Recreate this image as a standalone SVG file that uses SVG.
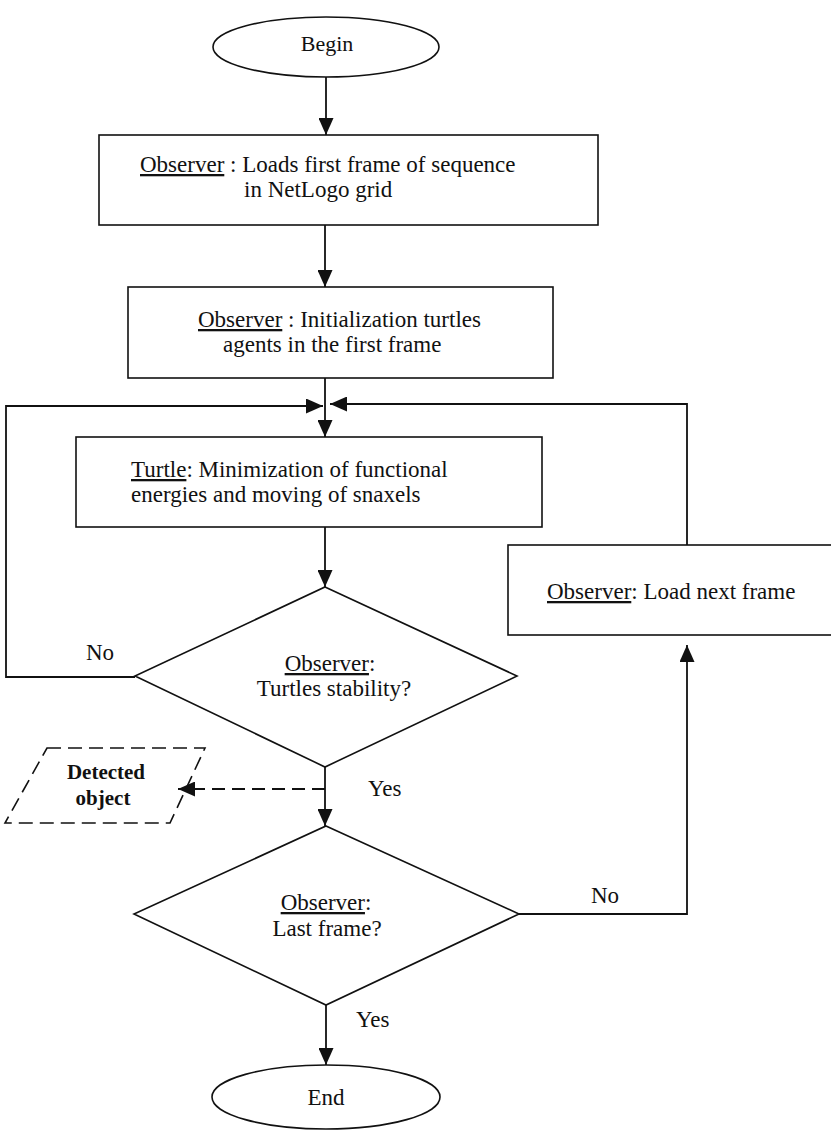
<svg xmlns="http://www.w3.org/2000/svg" width="831" height="1131" viewBox="0 0 831 1131">
<style>
text{font-family:"Liberation Serif","Times New Roman",serif;font-size:23px;fill:#111}
.b{font-weight:bold;font-size:21px}
.u{text-decoration:underline}
.shape{fill:#fff;stroke:#111;stroke-width:1.6}
.dash{fill:none;stroke:#111;stroke-width:1.6;stroke-dasharray:14 7}
.c{fill:none;stroke:#111;stroke-width:1.8}
.cd{fill:none;stroke:#111;stroke-width:2.2;stroke-dasharray:13 7}
</style>
<defs>
<marker id="ahl" viewBox="0 0 17 15" refX="17" refY="7.5" markerWidth="17" markerHeight="15" markerUnits="userSpaceOnUse" orient="auto">
<path d="M0,0 L17,7.5 L0,15 Z" fill="#111"/>
</marker>
</defs>
<rect width="831" height="1131" fill="#fff"/>
<g id="connectors">
<line class="c" x1="326" y1="77" x2="326" y2="135" marker-end="url(#ahl)"/>
<line class="c" x1="325" y1="225" x2="325" y2="287" marker-end="url(#ahl)"/>
<line class="c" x1="325" y1="378" x2="325" y2="437" marker-end="url(#ahl)"/>
<polyline class="c" points="135,677 6,677 6,406 323,406" marker-end="url(#ahl)"/>
<polyline class="c" points="687,545 687,404 330,404" marker-end="url(#ahl)"/>
<line class="c" x1="325" y1="527" x2="325" y2="587" marker-end="url(#ahl)"/>
<line class="c" x1="325" y1="767" x2="325" y2="826" marker-end="url(#ahl)"/>
<line class="cd" x1="325" y1="789" x2="178" y2="789" marker-end="url(#ahl)"/>
<polyline class="c" points="519,914 687,914 687,645" marker-end="url(#ahl)"/>
<line class="c" x1="326" y1="1005" x2="326" y2="1065" marker-end="url(#ahl)"/>
<text x="86" y="660">No</text>
<text x="368" y="796">Yes</text>
<text x="591" y="903">No</text>
<text x="356" y="1027">Yes</text>
</g>
<g id="begin">
<ellipse class="shape" cx="326" cy="47" rx="113" ry="30"/>
<text x="327" y="51" text-anchor="middle" style="font-size:22px">Begin</text>
</g>
<g id="load-first">
<rect class="shape" x="99" y="135" width="499" height="90"/>
<text x="140" y="172"><tspan class="u">Observer</tspan> : Loads first frame of sequence</text>
<text x="244" y="197">in NetLogo grid</text>
</g>
<g id="init-turtles">
<rect class="shape" x="128" y="287" width="425" height="91"/>
<text x="198" y="327"><tspan class="u">Observer</tspan> : Initialization turtles</text>
<text x="223" y="352">agents in the first frame</text>
</g>
<g id="minimization">
<rect class="shape" x="76" y="437" width="466" height="90"/>
<text x="131" y="477"><tspan class="u">Turtle</tspan>: Minimization of functional</text>
<text x="131" y="502">energies and moving of snaxels</text>
</g>
<g id="load-next">
<rect class="shape" x="508" y="545" width="330" height="90"/>
<text x="547" y="599"><tspan class="u">Observer</tspan>: Load next frame</text>
</g>
<g id="stability">
<polygon class="shape" points="325,587 517,676 325,767 135,676"/>
<text x="330" y="671" text-anchor="middle"><tspan class="u">Observer</tspan>:</text>
<text x="334" y="696" text-anchor="middle">Turtles stability?</text>
</g>
<g id="detected">
<polygon class="dash" points="47,748 205,748 170,823 5,823"/>
<text class="b" x="106" y="779" text-anchor="middle">Detected</text>
<text class="b" x="103" y="805" text-anchor="middle">object</text>
</g>
<g id="last-frame">
<polygon class="shape" points="326,826 519,914 326,1005 134,914"/>
<text x="326" y="910" text-anchor="middle"><tspan class="u">Observer</tspan>:</text>
<text x="327" y="936" text-anchor="middle">Last frame?</text>
</g>
<g id="end">
<ellipse class="shape" cx="326" cy="1097" rx="114" ry="32"/>
<text x="326" y="1105" text-anchor="middle">End</text>
</g>
</svg>
